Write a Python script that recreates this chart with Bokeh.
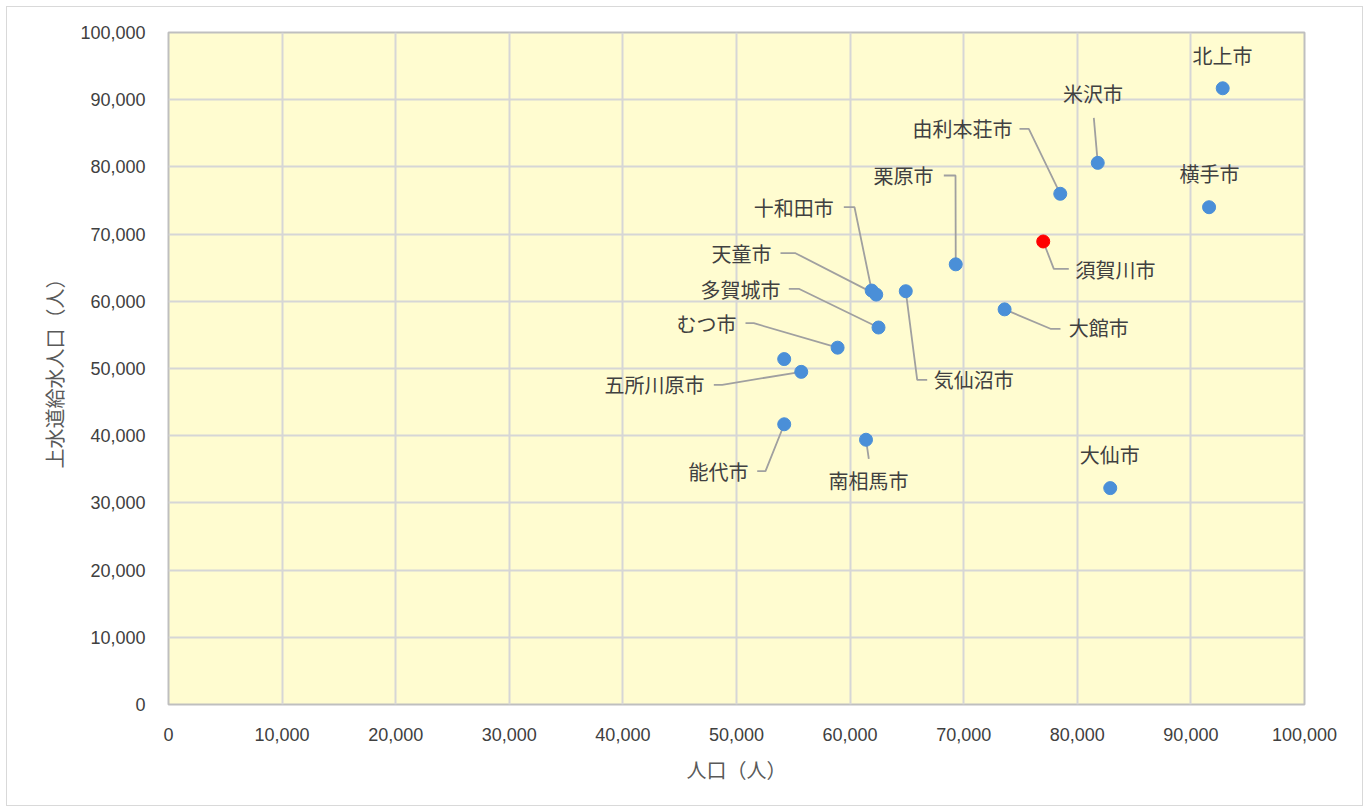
from bokeh.plotting import figure
from bokeh.models import ColumnDataSource, NumeralTickFormatter, FixedTicker, Range1d
from bokeh.core.properties import value
from bokeh.embed import file_html
from bokeh.resources import INLINE

# ---- data ----
cities = ["北上市", "米沢市", "由利本荘市", "横手市", "須賀川市", "栗原市", "十和田市",
          "天童市", "気仙沼市", "大館市", "多賀城市", "むつ市", "", "五所川原市",
          "能代市", "南相馬市", "大仙市"]
population = [92800, 81800, 78500, 91600, 77000, 69300, 61900,
              62300, 64900, 73600, 62500, 58900, 54200, 55700,
              54200, 61400, 82900]
water_pop = [91700, 80600, 76000, 74000, 68900, 65500, 61600,
             61000, 61500, 58800, 56100, 53100, 51400, 49500,
             41700, 39400, 32200]
highlight = "須賀川市"
x_ticks = list(range(0, 100001, 10000))
y_ticks = list(range(0, 100001, 10000))
x_title = "人口（人）"
y_title = "上水道給水人口（人）"

# ---- label layout (data units) ----
label_x = [92780, 81384, 74296, 91637, 79842, 67343, 58568,
           53081, 67370, 79252, 53873, 50000, 0, 47183,
           51056, 61620, 82864]
label_y = [96578, 90877, 85714, 79063, 64780, 78720, 73913,
           67163, 48313, 56051, 61711, 56746, 0, 47619,
           34722, 33333, 37202]
label_align = ["center", "center", "right", "center", "left", "right", "right",
               "right", "left", "left", "right", "right", "center", "right",
               "right", "center", "center"]
# leader line: start point and elbow point (None = no leader)
leader_start = [None, (81454, 87307), (74912, 85670), None, (79252, 64836), (68249, 78720), (59446, 74003),
                (53873, 67158), (66787, 48303), (78521, 55909), (54604, 61861), (50792, 56741), None, (48002, 47574),
                (51823, 34717), (61648, 36562), None]
leader_elbow = [None, None, (75731, 85670), None, (77932, 64836), (69279, 78720), (60388, 74003),
                (55194, 67158), (65907, 48303), (77641, 55909), (55484, 61861), (51523, 56741), None, (48741, 47574),
                (52553, 34717), None, None]

colors = ["#FF0000" if c == highlight else "#4A8FD8" for c in cities]
src = ColumnDataSource(dict(x=population, y=water_pop, name=cities, color=colors))

lab = dict(x=[], y=[], text=[], align=[])
for i, c in enumerate(cities):
    if c:
        lab["x"].append(label_x[i]); lab["y"].append(label_y[i])
        lab["text"].append(c); lab["align"].append(label_align[i])
lab_src = ColumnDataSource(lab)

lxs, lys = [], []
for i in range(len(cities)):
    if leader_start[i] is None:
        continue
    xs = [leader_start[i][0]]; ys = [leader_start[i][1]]
    if leader_elbow[i] is not None:
        xs.append(leader_elbow[i][0]); ys.append(leader_elbow[i][1])
    xs.append(population[i]); ys.append(water_pop[i])
    lxs.append(xs); lys.append(ys)

p = figure(output_backend="svg", toolbar_location=None,
           frame_width=1136, frame_height=672,
           min_border_left=161, min_border_right=58, min_border_top=25, min_border_bottom=101,
           x_range=Range1d(0, 100000), y_range=Range1d(0, 100000))
p.styles = {"margin": "7px 0px 0px 7px", "outline": "1px solid #D9D9D9"}
p.background_fill_color = "#FFFCD0"
p.border_fill_color = "white"
p.outline_line_color = "#BFBFBF"
p.outline_line_width = 2

for ax in (p.xaxis, p.yaxis):
    ax.axis_line_color = None
    ax.major_tick_line_color = None
    ax.minor_tick_line_color = None
    ax.formatter = NumeralTickFormatter(format="0,0")
    ax.major_label_text_font = "Liberation Sans"
    ax.major_label_text_font_size = "18px"
    ax.major_label_text_color = "#404040"
    ax.axis_label_text_font = "Noto Sans CJK JP"
    ax.axis_label_text_font_size = "20px"
    ax.axis_label_text_font_style = "normal"
    ax.axis_label_text_color = "#595959"
    ax.major_label_standoff = 17
p.xaxis.ticker = FixedTicker(ticks=x_ticks)
p.yaxis.ticker = FixedTicker(ticks=y_ticks)
p.xaxis.axis_label = x_title
p.yaxis.axis_label = y_title
p.xaxis.axis_label_standoff = 11
p.yaxis.axis_label_standoff = 8

p.xgrid.grid_line_color = "#D6D6D6"
p.ygrid.grid_line_color = "#D6D6D6"
p.xgrid.grid_line_width = 2
p.ygrid.grid_line_width = 2

p.multi_line(lxs, lys, line_color="#A0A0A0", line_width=1.8)
p.scatter("x", "y", source=src, size=13, fill_color="color", line_color="color")
p.text("x", "y", text="text", source=lab_src, text_align="align", text_baseline="middle",
       text_font=value("Noto Sans CJK JP"), text_font_size="20px", text_color="#404040")

open("out.html", "w").write(file_html(p, INLINE))
